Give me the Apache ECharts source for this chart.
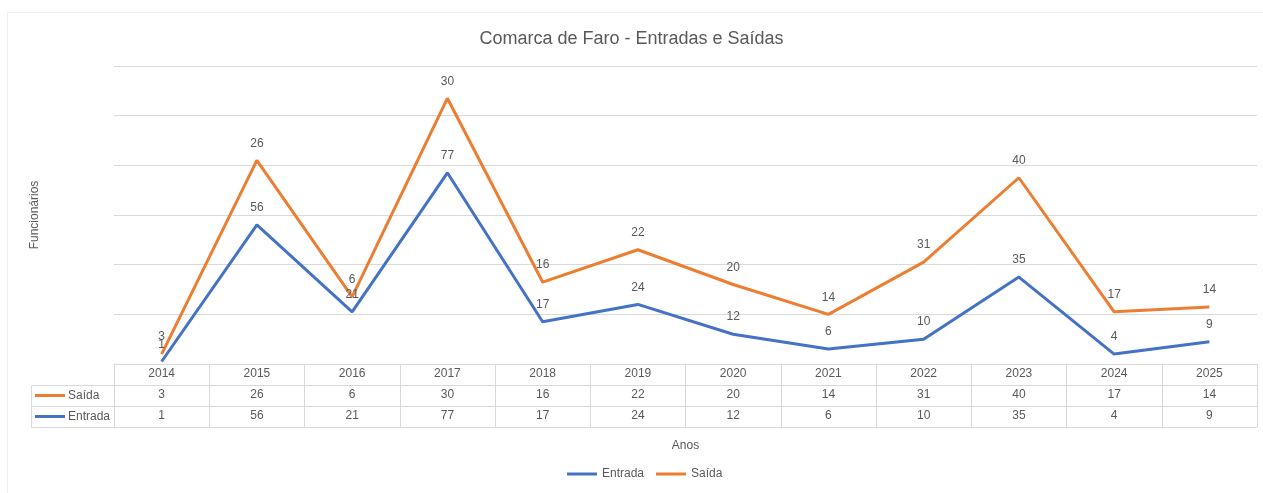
<!DOCTYPE html>
<html>
<head>
<meta charset="utf-8">
<script src="https://cdn.jsdelivr.net/npm/echarts@6/dist/echarts.min.js"></script>
<style>
  html, body { margin: 0; padding: 0; background: #fff; }
  #chart { width: 1263px; height: 493px; }
</style>
</head>
<body>
<div id="chart"></div>
<script>
const years = ['2014', '2015', '2016', '2017', '2018', '2019', '2020', '2021', '2022', '2023', '2024', '2025'];
const entrada = [1, 56, 21, 77, 17, 24, 12, 6, 10, 35, 4, 9];
const saida = [3, 26, 6, 30, 16, 22, 20, 14, 31, 40, 17, 14];

const BLUE = '#4472C4';
const ORANGE = '#ED7D31';
const TEXT = '#595959';
const BORDER = '#d9d9d9';
const FONT = '"Liberation Sans", Arial, sans-serif';

// layout of the grid and the data table under it
const gridLeft = 114;
const gridTop = 66;
const gridBottomY = 364;
const rowH = 21;
const headLeft = 31;

const chart = echarts.init(document.getElementById('chart'));

// one category axis per table row
const tableAxis = (offset, labels, extra) => Object.assign({
  type: 'category',
  data: years,
  position: 'bottom',
  offset: offset,
  boundaryGap: true,
  axisLine: { show: true, lineStyle: { color: BORDER, width: 1 } },
  axisTick: { show: true, interval: 0, length: rowH, lineStyle: { color: BORDER } },
  axisLabel: {
    show: true,
    interval: 0,
    margin: 4,
    color: TEXT,
    fontSize: 12,
    fontFamily: FONT,
    formatter: (v, i) => String(labels[i])
  },
  splitLine: { show: false }
}, extra || {});

const rowHeader = (row, name, color) => [
  {
    type: 'rect',
    shape: { x: headLeft + 0.5, y: gridBottomY + rowH * row + 0.5, width: gridLeft - headLeft, height: rowH },
    style: { fill: 'none', stroke: BORDER, lineWidth: 1 }
  },
  {
    type: 'line',
    shape: { x1: headLeft + 4, y1: gridBottomY + rowH * row + rowH / 2, x2: headLeft + 34, y2: gridBottomY + rowH * row + rowH / 2 },
    style: { stroke: color, lineWidth: 3 }
  },
  {
    type: 'text',
    x: headLeft + 37,
    y: gridBottomY + rowH * row + rowH / 2,
    style: { text: name, fill: TEXT, font: '12px ' + FONT, textVerticalAlign: 'middle' }
  }
];

const option = {
  backgroundColor: '#fff',
  title: {
    text: 'Comarca de Faro - Entradas e Saídas',
    left: 'center',
    top: 25,
    textStyle: { color: TEXT, fontSize: 18, fontWeight: 'normal', fontFamily: FONT }
  },
  legend: {
    data: ['Entrada', 'Saída'],
    bottom: 8,
    left: 562,
    icon: 'rect',
    itemWidth: 30,
    itemHeight: 3,
    itemGap: 12,
    textStyle: { color: TEXT, fontSize: 12, fontFamily: FONT }
  },
  grid: { left: gridLeft, right: 6, top: gridTop, height: gridBottomY - gridTop },
  xAxis: [
    tableAxis(0, years),
    tableAxis(rowH, saida),
    tableAxis(rowH * 2, entrada),
    tableAxis(rowH * 3, years, {
      axisTick: { show: false },
      axisLabel: { show: false },
      name: 'Anos',
      nameLocation: 'middle',
      nameGap: 13,
      nameTextStyle: { color: TEXT, fontSize: 12, fontFamily: FONT }
    })
  ],
  yAxis: {
    type: 'value',
    min: 0,
    max: 120,
    interval: 20,
    name: 'Funcionários',
    nameLocation: 'middle',
    nameGap: 73,
    nameTextStyle: { color: TEXT, fontSize: 12, fontFamily: FONT },
    axisLine: { show: false },
    axisTick: { show: false },
    axisLabel: { show: false },
    splitLine: { lineStyle: { color: BORDER, width: 1 } }
  },
  series: [
    {
      name: 'Entrada',
      type: 'line',
      stack: 'total',
      data: entrada,
      color: BLUE,
      symbol: 'circle',
      symbolSize: 0.1,
      lineStyle: { width: 3, color: BLUE },
      label: { show: true, position: 'top', distance: 11, color: TEXT, fontSize: 12, fontFamily: FONT },
      animation: false
    },
    {
      name: 'Saída',
      type: 'line',
      stack: 'total',
      data: saida,
      color: ORANGE,
      symbol: 'circle',
      symbolSize: 0.1,
      lineStyle: { width: 3, color: ORANGE },
      label: { show: true, position: 'top', distance: 11, color: TEXT, fontSize: 12, fontFamily: FONT },
      animation: false
    }
  ],
  graphic: [
    {
      type: 'rect',
      silent: true,
      shape: { x: 7.5, y: 12.5, width: 1270, height: 500 },
      style: { fill: 'none', stroke: '#eeeeee', lineWidth: 1 }
    }
  ].concat(rowHeader(1, 'Saída', ORANGE), rowHeader(2, 'Entrada', BLUE))
};

chart.setOption(option);
window.addEventListener('resize', () => chart.resize());
</script>
</body>
</html>
